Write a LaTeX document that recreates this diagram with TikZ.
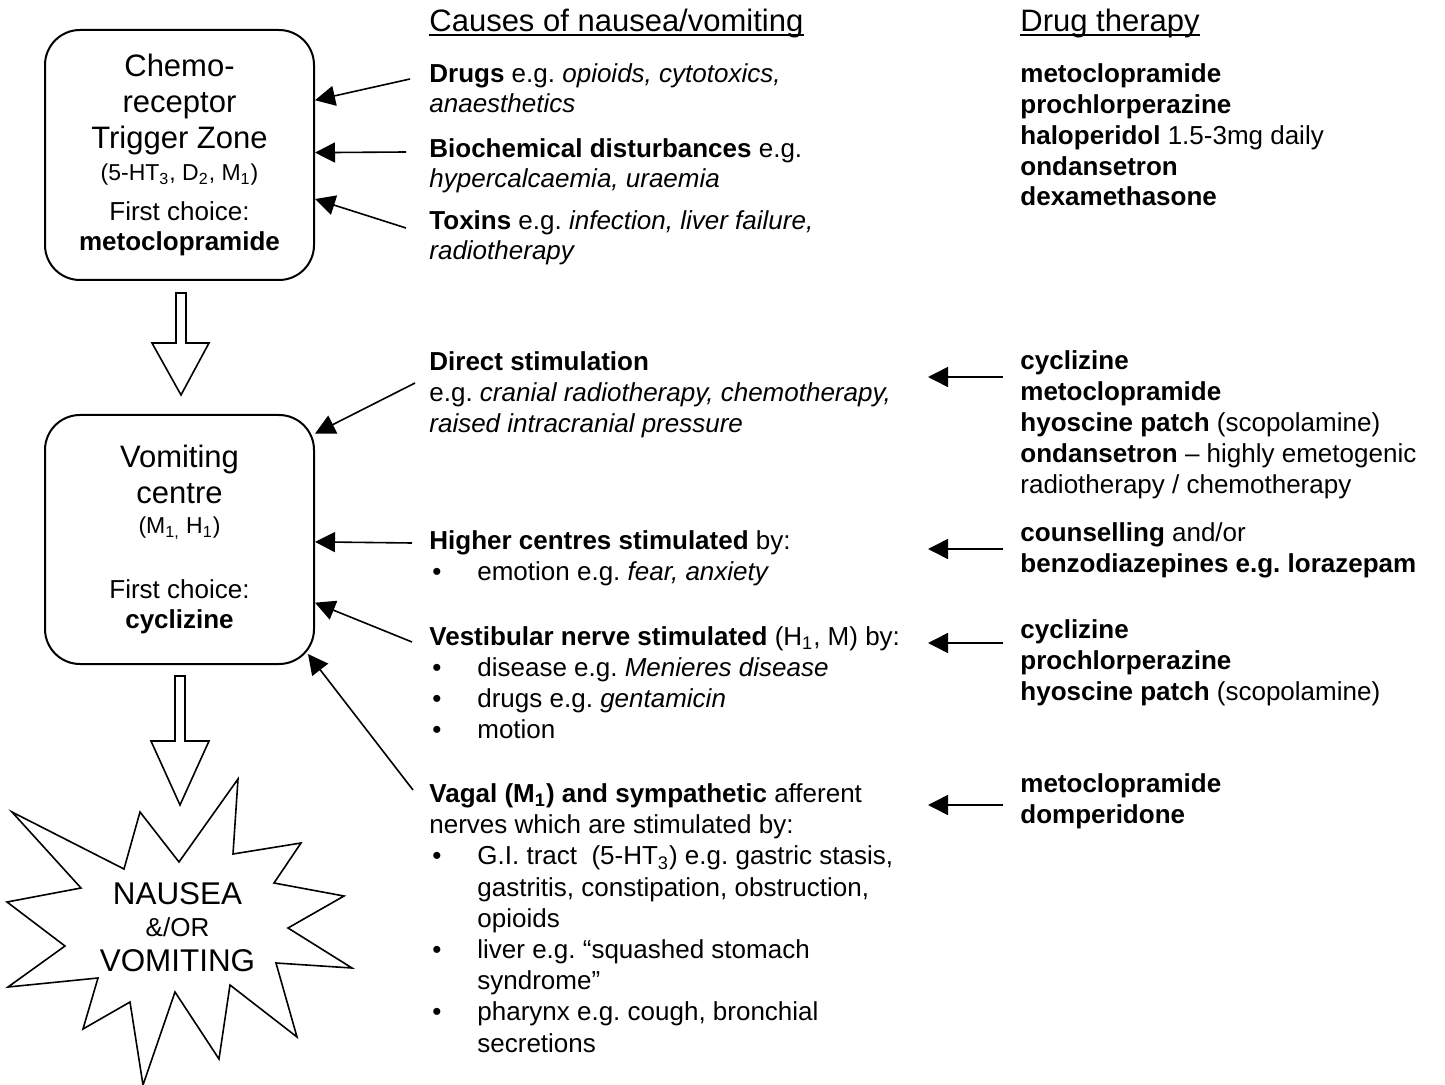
\documentclass[tikz,border=0pt]{standalone}
\usepackage{fontspec}
\setmainfont{Liberation Sans}
\usetikzlibrary{arrows.meta,calc}
\newcommand\bitem{\makebox[24pt][l]{\hspace{1.5pt}•}}
\newcommand\bcont{\hspace*{24pt}}
\begin{document}
\begin{tikzpicture}[x=0.5pt,y=-0.5pt,line cap=butt,line join=miter,
	txt/.style={anchor=base west,inner sep=0pt,align=left,font=\fontsize{13}{15.4}\selectfont},
	head/.style={anchor=base west,inner sep=0pt,font=\fontsize{15.5}{18}\selectfont},
	box/.style={draw,line width=1pt,rounded corners=17.5pt,minimum width=134.5pt,align=center,inner sep=0pt,font=\fontsize{15.5}{18}\selectfont},
	arr/.style={-{Triangle[length=10pt,width=10pt]},line width=0.8pt},
	fat/.style={draw,line width=0.8pt,fill=white}]
	\useasboundingbox (0,0) rectangle (1445,1085);
	\node[box,minimum height=125pt] (ctz) at (179.5,155) {Chemo-\\receptor\\Trigger Zone\\[-2pt]{\fontsize{11.5}{13}\selectfont(5-HT\textsubscript{3}, D\textsubscript{2}, M\textsubscript{1})}\\[2pt]{\fontsize{13}{15}\selectfont First choice:}\\[-3pt]{\fontsize{13}{15}\selectfont\textbf{metoclopramide}}};
	\node[box,minimum height=124.5pt] (vc) at (179.5,539.5) {Vomiting\\centre\\[-3pt]{\fontsize{11.5}{13}\selectfont(M\textsubscript{1,} H\textsubscript{1})}\\[14.5pt]{\fontsize{13}{15}\selectfont First choice:}\\[-3pt]{\fontsize{13}{15}\selectfont\textbf{cyclizine}}};
	\draw[fat] (176,293) -- (176,343) -- (152,343) -- (181,395) -- (209,343) -- (186,343) -- (186,293) -- cycle;
	\draw[fat] (175,676) -- (175,741) -- (151,741) -- (180,805) -- (209,741) -- (185,741) -- (185,676) -- cycle;
	\draw[fat] (238,779) -- (233,854) -- (301,843) -- (274,883) -- (344,896) -- (288,928) -- (352,968) -- (276,963) -- (297,1037) -- (230,985) -- (219,1059) -- (175,992) -- (143,1085) -- (130,1002) -- (83,1029) -- (98,978) -- (8,987) -- (65,946) -- (7,902) -- (81,888) -- (12,812) -- (124,869) -- (140,812) -- (179,862) -- cycle;
	\node[align=center,inner sep=0pt,font=\fontsize{15.7}{17}\selectfont] (nv) at (177.5,927) {NAUSEA\\[-1pt]{\fontsize{13}{15}\selectfont\&/OR}\\[0.5pt]VOMITING};
	\node[head] (causes) at (429,32) {Causes of nausea/vomiting};
	\node[head] (therapy) at (1020,32) {Drug therapy};
	\draw[line width=1pt] ($(causes.base west)+(0,3.5)$) -- ($(causes.base east)+(0,3.5)$);
	\draw[line width=1pt] ($(therapy.base west)+(0,3.5)$) -- ($(therapy.base east)+(0,3.5)$);
	\node[txt] (drugs) at (429,113) {\textbf{Drugs} e.g.\ \textit{opioids, cytotoxics,}\\\textit{anaesthetics}};
	\node[txt] (bio) at (429,188) {\textbf{Biochemical disturbances} e.g.\\\textit{hypercalcaemia, uraemia}};
	\node[txt] (tox) at (429,260) {\textbf{Toxins} e.g.\ \textit{infection, liver failure,}\\\textit{radiotherapy}};
	\node[txt] (direct) at (429,432) {\textbf{Direct stimulation}\\e.g.\ \textit{cranial radiotherapy, chemotherapy,}\\\textit{raised intracranial pressure}};
	\node[txt] (higher) at (429,580) {\textbf{Higher centres stimulated} by:\\\bitem emotion e.g.\ \textit{fear, anxiety}};
	\node[txt] (vest) at (429,738) {\textbf{Vestibular nerve stimulated} (H\textsubscript{1}, M) by:\\\bitem disease e.g.\ \textit{Menieres disease}\\\bitem drugs e.g.\ \textit{gentamicin}\\\bitem motion};
	\node[txt,font=\fontsize{13}{15.6}\selectfont] (vagal) at (429,1052) {\textbf{Vagal (M\textsubscript{1}) and sympathetic} afferent\\nerves which are stimulated by:\\\bitem G.I. tract\ \ (5-HT\textsubscript{3}) e.g.\ gastric stasis,\\\bcont gastritis, constipation, obstruction,\\\bcont opioids\\\bitem liver e.g.\ “squashed stomach\\\bcont syndrome”\\\bitem pharynx e.g.\ cough, bronchial\\\bcont secretions};
	\node[txt] (dt0) at (1020,206) {\textbf{metoclopramide}\\\textbf{prochlorperazine}\\\textbf{haloperidol} 1.5-3mg daily\\\textbf{ondansetron}\\\textbf{dexamethasone}};
	\node[txt] (dt1) at (1020,493) {\textbf{cyclizine}\\\textbf{metoclopramide}\\\textbf{hyoscine patch} (scopolamine)\\\textbf{ondansetron} – highly emetogenic\\radiotherapy / chemotherapy};
	\node[txt] (dt2) at (1020,572) {\textbf{counselling} and/or\\\textbf{benzodiazepines e.g.\ lorazepam}};
	\node[txt] (dt3) at (1020,700) {\textbf{cyclizine}\\\textbf{prochlorperazine}\\\textbf{hyoscine patch} (scopolamine)};
	\node[txt] (dt4) at (1020,823) {\textbf{metoclopramide}\\\textbf{domperidone}};
	\coordinate (c1) at (410,79);
	\coordinate (c2) at (406,152);
	\coordinate (c3) at (406,228);
	\coordinate (c4) at (415,383);
	\coordinate (c5) at (412,543);
	\coordinate (c6) at (412,642);
	\coordinate (c7) at (413,790);
	\draw[arr] (c1) -- (ctz.22);
	\draw[arr] (c2) -- (ctz.1);
	\draw[arr] (c3) -- (ctz.-18.5);
	\draw[arr] (c4) -- (vc.38);
	\draw[arr] (c5) -- (vc.-1.5);
	\draw[arr] (c6) -- (vc.-25);
	\draw[arr] (c7) -- ($(vc.south east)+(-7,-11)$);
	\coordinate (d1) at (1003,377);
	\coordinate (d2) at (1003,549);
	\coordinate (d3) at (1003,643);
	\coordinate (d4) at (1003,805);
	\draw[arr] (d1) -- ++(-75,0);
	\draw[arr] (d2) -- ++(-75,0);
	\draw[arr] (d3) -- ++(-75,0);
	\draw[arr] (d4) -- ++(-75,0);
\end{tikzpicture}
\end{document}
